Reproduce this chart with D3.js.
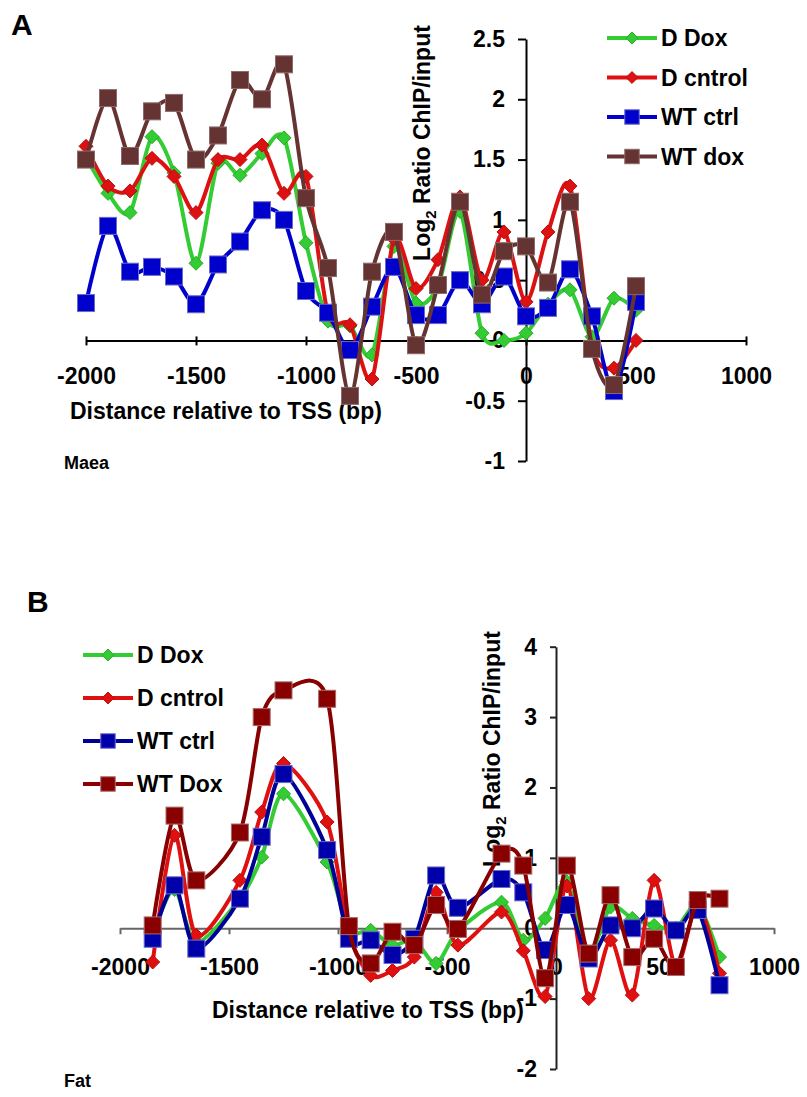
<!DOCTYPE html>
<html>
<head>
<meta charset="utf-8">
<script src="https://cdn.jsdelivr.net/npm/d3@7"></script>
<style>
  body { margin: 0; background: #fff; }
  svg { display: block; font-family: 'Liberation Sans', Arial, sans-serif; font-weight: bold; }
</style>
</head>
<body>
<svg id="chart" width="807" height="1097"></svg>
<script>
// Panel A (Maea): positions relative to TSS
const posA = [-2000, -1900, -1800, -1700, -1600, -1500, -1400, -1300, -1200, -1100, -1000, -900, -800,
  -700, -600, -500, -400, -300, -200, -100, 0, 100, 200, 300, 400, 500];
const aDDox = [1.52, 1.22, 1.06, 1.69, 1.39, 0.64, 1.47, 1.37, 1.55, 1.68, 0.81, 0.16, 0.12,
  -0.12, 0.78, 0.31, 0.45, 1.07, 0.06, 0.0, 0.06, 0.3, 0.42, 0.03, 0.35, 0.25];
const aDCntrol = [1.61, 1.28, 1.24, 1.51, 1.36, 1.06, 1.50, 1.50, 1.62, 1.22, 1.36, 0.22, 0.13,
  -0.32, 0.84, 0.43, 0.67, 1.19, 0.50, 0.90, 0.32, 0.90, 1.28, -0.05, -0.23, 0.0];
const aWTctrl = [0.31, 0.95, 0.57, 0.61, 0.53, 0.30, 0.63, 0.82, 1.08, 1.0, 0.41, 0.23, -0.08,
  0.28, 0.61, 0.21, 0.21, 0.50, 0.30, 0.53, 0.20, 0.27, 0.59, 0.20, -0.42, 0.32];
const aWTdox = [1.50, 2.01, 1.53, 1.90, 1.97, 1.50, 1.70, 2.16, 2.0, 2.29, 1.18, 0.60, -0.46,
  0.57, 0.90, -0.04, 0.46, 1.15, 0.38, 0.74, 0.78, 0.48, 1.15, -0.07, -0.37, 0.45];

// Panel B (Fat)
const posB = [-1850, -1750, -1650, -1450, -1350, -1250, -1050, -950, -850, -750, -650, -550,
  -450, -250, -150, -50, 50, 150, 250, 350, 450, 550, 650, 750];
const bDDox = [-0.08, 0.55, -0.2, 0.42, 1.01, 1.91, 0.94, -0.02, -0.03, -0.24, -0.17, -0.5,
  -0.04, 0.37, -0.17, 0.14, 0.66, -0.35, 0.30, 0.14, 0.04, 0.0, 0.33, -0.41];
const bDCntrol = [-0.48, 1.32, -0.1, 0.68, 1.65, 2.34, 1.51, -0.07, -0.67, -0.6, -0.41, 0.51,
  -0.24, 0.23, -0.32, -0.97, 0.6, -1.0, -0.17, -0.95, 0.68, -0.55, 0.33, -0.64];
const bWTctrl = [-0.15, 0.61, -0.29, 0.42, 1.30, 2.19, 1.11, -0.15, -0.17, -0.38, -0.15, 0.75,
  0.29, 0.70, 0.51, -0.31, 0.33, -0.43, 0.04, 0.0, 0.28, -0.03, 0.26, -0.81];
const bWTdox = [0.04, 1.60, 0.68, 1.36, 3.0, 3.38, 3.26, 0.03, -0.50, -0.05, -0.24, 0.33,
  -0.01, 1.06, 0.89, -0.71, 0.89, -0.36, 0.47, -0.41, -0.15, -0.55, 0.40, 0.42];

const xTicks = [-2000, -1500, -1000, -500, 0, 500, 1000];
const yTicksA = [-1, -0.5, 0, 0.5, 1, 1.5, 2, 2.5];
const yTicksB = [-2, -1, 0, 1, 2, 3, 4];
const namesA = ['D Dox', 'D cntrol', 'WT ctrl', 'WT dox'];
const namesB = ['D Dox', 'D cntrol', 'WT ctrl', 'WT Dox'];

const svg = d3.select('#chart');

function drawPanel(cfg) {
  const x = d3.scaleLinear().domain([-2000, 1000]).range(cfg.xRange);
  const y = d3.scaleLinear().domain(cfg.yDomain).range(cfg.yRange);
  const g = svg.append('g');

  // x axis at y = 0
  const xAxis = g.append('g')
    .attr('transform', `translate(0,${y(0)})`)
    .call(d3.axisBottom(x).tickValues(xTicks).tickFormat(d3.format('d')).tickSizeOuter(0));
  xAxis.select('.domain').attr('stroke', cfg.xAxisColor).attr('stroke-width', 2);
  xAxis.selectAll('.tick line').attr('stroke', cfg.xAxisColor).attr('stroke-width', 2)
    .attr('y1', cfg.xTickUp).attr('y2', cfg.xTickDown);
  xAxis.selectAll('.tick text').attr('y', cfg.xLabelY).attr('dy', '0.71em')
    .attr('fill', '#000').style('font-size', '23px').style('font-family', 'Liberation Sans, Arial').style('font-weight', 'bold')
    .text(d => d < 0 ? '-' + Math.abs(d) : d);

  // y axis at x = 0
  const yAxis = g.append('g')
    .attr('transform', `translate(${x(0)},0)`)
    .call(d3.axisLeft(y).tickValues(cfg.yTicks).tickFormat(d => d < 0 ? '-' + Math.abs(d) : String(d)).tickSize(cfg.yTickLen).tickSizeOuter(0));
  yAxis.select('.domain').attr('stroke', cfg.yAxisColor).attr('stroke-width', 2);
  yAxis.selectAll('.tick line').attr('stroke', cfg.yAxisColor).attr('stroke-width', 2);
  yAxis.selectAll('.tick text').attr('x', -cfg.yLabelGap)
    .attr('fill', '#000').style('font-size', '23px').style('font-family', 'Liberation Sans, Arial').style('font-weight', 'bold');

  // axis titles
  g.append('text')
    .attr('x', cfg.xTitle[0]).attr('y', cfg.xTitle[1])
    .style('font-size', '23px')
    .text('Distance relative to TSS (bp)');

  const yt = g.append('text')
    .attr('transform', `translate(${cfg.yTitle[0]},${cfg.yTitle[1]}) rotate(-90)`)
    .attr('text-anchor', 'middle')
    .style('font-size', '23px');
  yt.append('tspan').text('Log');
  yt.append('tspan').attr('dy', 6).style('font-size', '15px').text('2');
  yt.append('tspan').attr('dy', -6).text(' Ratio ChIP/input');

  // Excel-style smoothed lines
  const line = d3.line()
    .x(d => x(d[0]))
    .y(d => y(d[1]))
    .curve(d3.curveCardinal.tension(0.15));

  cfg.series.forEach(s => {
    const pts = cfg.pos.map((p, i) => [p, s.values[i]]);
    g.append('path')
      .datum(pts)
      .attr('fill', 'none')
      .attr('stroke', s.color)
      .attr('stroke-width', 4)
      .attr('d', line);
    drawMarkers(g, pts.map(d => [x(d[0]), y(d[1])]), s);
  });

  // legend
  cfg.series.forEach((s, i) => {
    const ly = cfg.legend.y0 + i * cfg.legend.step;
    const lx = cfg.legend.x0;
    g.append('line')
      .attr('x1', lx).attr('x2', lx + 50)
      .attr('y1', ly).attr('y2', ly)
      .attr('stroke', s.color).attr('stroke-width', 4);
    drawMarkers(g, [[lx + 25, ly]], s, 0.85);
    g.append('text')
      .attr('x', lx + 54).attr('y', ly + 8)
      .style('font-size', '23px')
      .text(cfg.names[i]);
  });

  g.append('text')
    .attr('x', cfg.panelLabel[0]).attr('y', cfg.panelLabel[1])
    .style('font-size', '30px')
    .text(cfg.panelLetter);

  g.append('text')
    .attr('x', cfg.geneLabel[0]).attr('y', cfg.geneLabel[1])
    .style('font-size', '18px')
    .text(cfg.gene);
}

function drawMarkers(g, pts, s, scale = 1) {
  if (s.marker === 'square') {
    const h = 8.5 * scale;
    g.selectAll(null).data(pts).enter().append('rect')
      .attr('x', d => d[0] - h).attr('y', d => d[1] - h)
      .attr('width', h * 2).attr('height', h * 2)
      .attr('fill', s.fill).attr('stroke', s.edge).attr('stroke-width', 1);
  } else {
    const h = 7 * scale;
    g.selectAll(null).data(pts).enter().append('path')
      .attr('d', d => `M${d[0]},${d[1] - h}L${d[0] + h},${d[1]}L${d[0]},${d[1] + h}L${d[0] - h},${d[1]}Z`)
      .attr('fill', s.fill).attr('stroke', s.edge).attr('stroke-width', 1);
  }
}

drawPanel({
  pos: posA,
  xRange: [86, 746],
  yDomain: [-1, 2.5],
  yRange: [461, 39],
  yTicks: yTicksA,
  xAxisColor: '#000', yAxisColor: '#000',
  xTickUp: -4, xTickDown: 5, xLabelY: 27,
  yTickLen: 8, yLabelGap: 21,
  xTitle: [70, 419],
  yTitle: [430, 143],
  names: namesA,
  legend: { x0: 607, y0: 38, step: 39.5 },
  panelLabel: [11, 35], panelLetter: 'A',
  geneLabel: [64, 469], gene: 'Maea',
  series: [
    { values: aDDox, color: '#33cc33', fill: '#33cc33', edge: '#2aa82a', marker: 'diamond' },
    { values: aDCntrol, color: '#dd1111', fill: '#dd1111', edge: '#b80e0e', marker: 'diamond' },
    { values: aWTctrl, color: '#0000cc', fill: '#0000cc', edge: '#6a6ac8', marker: 'square' },
    { values: aWTdox, color: '#663333', fill: '#663333', edge: '#8c6a6a', marker: 'square' }
  ]
});

drawPanel({
  pos: posB,
  xRange: [120, 774],
  yDomain: [-2, 4],
  yRange: [1069, 646.7],
  yTicks: yTicksB,
  xAxisColor: '#666', yAxisColor: '#222',
  xTickUp: 0, xTickDown: 6, xLabelY: 30,
  yTickLen: 6, yLabelGap: 19,
  xTitle: [212, 1018],
  yTitle: [500, 749],
  names: namesB,
  legend: { x0: 83, y0: 655, step: 43 },
  panelLabel: [27, 612], panelLetter: 'B',
  geneLabel: [64, 1087], gene: 'Fat',
  series: [
    { values: bDDox, color: '#33cc33', fill: '#33cc33', edge: '#2aa82a', marker: 'diamond' },
    { values: bDCntrol, color: '#e01010', fill: '#e01010', edge: '#b80e0e', marker: 'diamond' },
    { values: bWTctrl, color: '#000099', fill: '#0000aa', edge: '#6a6ac8', marker: 'square' },
    { values: bWTdox, color: '#880000', fill: '#880000', edge: '#a86a6a', marker: 'square' }
  ]
});
</script>
</body>
</html>
